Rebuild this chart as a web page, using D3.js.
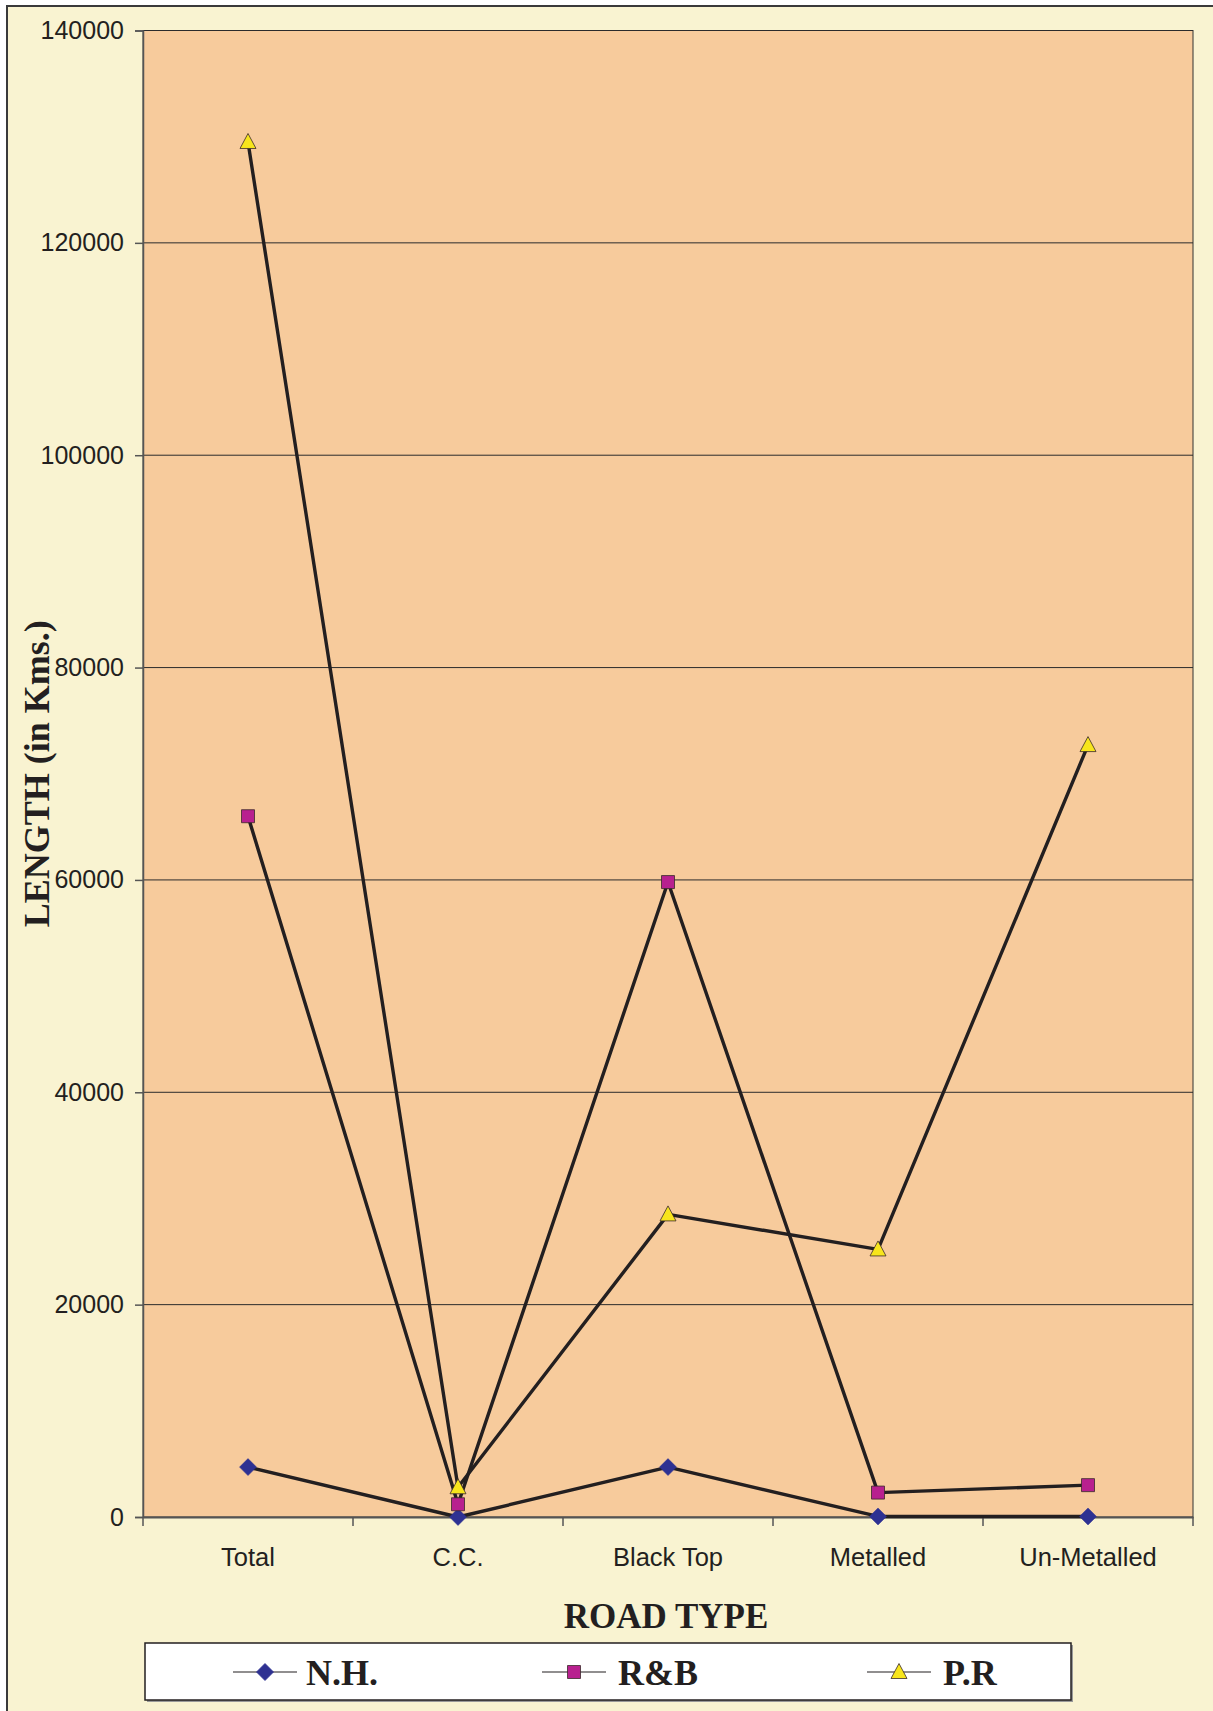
<!DOCTYPE html>
<html>
<head>
<meta charset="utf-8">
<script src="https://cdnjs.cloudflare.com/ajax/libs/d3/7.8.5/d3.min.js"></script>
<style>
  body { margin: 0; background: #ffffff; }
  svg { display: block; }
</style>
</head>
<body>
<svg id="svg1" width="1213" height="1711"></svg>
<script>
// data
var categories = ['Total', 'C.C.', 'Black Top', 'Metalled', 'Un-Metalled'];
var seriesNames = ['N.H.', 'R&B', 'P.R'];
var nhValues = [4700, 0, 4700, 50, 50];
var rbValues = [66000, 1200, 59800, 2300, 3000];
var prValues = [129500, 2800, 28500, 25200, 72700];
var yTicks = [0, 20000, 40000, 60000, 80000, 100000, 120000, 140000];

var series = [
    {name: seriesNames[0], values: nhValues, color: '#2e3192', shape: 'diamond'},
    {name: seriesNames[1], values: rbValues, color: '#b8208f', shape: 'square'},
    {name: seriesNames[2], values: prValues, color: '#f7e51c', shape: 'triangle'}
];

var svg = d3.select('#svg1');

var plotLeft = 143, plotRight = 1193, plotTop = 30.5, plotBottom = 1517;

// outer frame (runs off the right and bottom edges)
svg.append('rect')
    .attr('x', 7).attr('y', 6)
    .attr('width', 1230).attr('height', 1730)
    .attr('fill', '#f9f3d1')
    .attr('stroke', '#3a3a3a')
    .attr('stroke-width', 2);

var scaleX = d3.scaleBand().domain(categories).range([plotLeft, plotRight]);
var scaleY = d3.scaleLinear().domain([0, 140000]).range([plotBottom, plotTop]);

// plot area
svg.append('rect')
    .attr('x', plotLeft).attr('y', plotTop)
    .attr('width', plotRight - plotLeft).attr('height', plotBottom - plotTop)
    .attr('fill', '#f7cb9c')
    .attr('stroke', '#333')
    .attr('stroke-width', 1);

// gridlines
svg.append('g').selectAll('line')
    .data(yTicks.filter(function(d){ return d > 0; }))
    .enter().append('line')
    .attr('x1', plotLeft).attr('x2', plotRight)
    .attr('y1', function(d){ return scaleY(d); })
    .attr('y2', function(d){ return scaleY(d); })
    .attr('stroke', '#2b2b2b')
    .attr('stroke-width', 1);

// y axis
var yAxis = svg.append('g')
    .attr('transform', 'translate(' + plotLeft + ',0)')
    .call(d3.axisLeft(scaleY).tickValues(yTicks).tickFormat(d3.format('d')).tickSize(8).tickPadding(11));
yAxis.select('.domain').attr('stroke', '#555').attr('stroke-width', 1.5);
yAxis.selectAll('.tick line').attr('stroke', '#555').attr('stroke-width', 1.5);
yAxis.selectAll('text')
    .attr('font-family', 'Liberation Sans, Arial, sans-serif')
    .attr('font-size', 25)
    .attr('fill', '#231f20');

// x axis: ticks at band edges, labels at band centres
var xAxis = svg.append('g')
    .attr('transform', 'translate(0,' + plotBottom + ')')
    .call(d3.axisBottom(scaleX).tickSize(0).tickPadding(31));
xAxis.select('.domain').attr('stroke', '#555').attr('stroke-width', 2);
xAxis.selectAll('text')
    .attr('font-family', 'Liberation Sans, Arial, sans-serif')
    .attr('font-size', 25.5)
    .attr('fill', '#231f20');

var edges = categories.map(function(c){ return scaleX(c); }).concat([plotRight]);
svg.append('g').selectAll('line')
    .data(edges)
    .enter().append('line')
    .attr('x1', function(d){ return d; })
    .attr('x2', function(d){ return d; })
    .attr('y1', plotBottom)
    .attr('y2', plotBottom + 9)
    .attr('stroke', '#555')
    .attr('stroke-width', 1.5);

// axis titles
svg.append('text')
    .attr('transform', 'translate(49,' + ((plotTop + plotBottom) / 2) + ') rotate(-90)')
    .attr('text-anchor', 'middle')
    .attr('font-family', 'Liberation Serif, Times New Roman, serif')
    .attr('font-weight', 'bold')
    .attr('font-size', 36)
    .attr('fill', '#231f20')
    .text('LENGTH (in Kms.)');

svg.append('text')
    .attr('x', (plotLeft + plotRight) / 2 - 2)
    .attr('y', 1628)
    .attr('text-anchor', 'middle')
    .attr('font-family', 'Liberation Serif, Times New Roman, serif')
    .attr('font-weight', 'bold')
    .attr('font-size', 35)
    .attr('fill', '#231f20')
    .text('ROAD TYPE');

function markerPath(shape) {
    if (shape === 'diamond') return 'M0,-8.5L8.5,0L0,8.5L-8.5,0Z';
    if (shape === 'square') return 'M-6.5,-6.5L6.5,-6.5L6.5,6.5L-6.5,6.5Z';
    return 'M0,-8.5L8,6.5L-8,6.5Z';
}

var line = d3.line()
    .x(function(d, i){ return scaleX(categories[i]) + scaleX.bandwidth() / 2; })
    .y(function(d){ return scaleY(d); });

// lines
series.forEach(function(s){
    svg.append('path')
        .attr('d', line(s.values))
        .attr('fill', 'none')
        .attr('stroke', '#231f20')
        .attr('stroke-width', 3.4)
        .attr('stroke-linejoin', 'round');
});

// markers
series.forEach(function(s){
    svg.append('g').selectAll('path')
        .data(s.values)
        .enter().append('path')
        .attr('transform', function(d, i){
            return 'translate(' + (scaleX(categories[i]) + scaleX.bandwidth() / 2) + ',' + scaleY(d) + ')';
        })
        .attr('d', markerPath(s.shape))
        .attr('fill', s.color)
        .attr('stroke', s.shape === 'diamond' ? s.color : '#3a2a2a')
        .attr('stroke-width', s.shape === 'diamond' ? 0.5 : 0.8);
});

// legend
svg.append('rect')
    .attr('x', 147).attr('y', 1645)
    .attr('width', 926).attr('height', 57)
    .attr('fill', '#9a9a9a');
svg.append('rect')
    .attr('x', 145).attr('y', 1643)
    .attr('width', 926).attr('height', 57)
    .attr('fill', '#ffffff')
    .attr('stroke', '#231f20')
    .attr('stroke-width', 1.5);

var legendX = [233, 542, 867];
var legend = svg.append('g').selectAll('g')
    .data(series)
    .enter().append('g')
    .attr('transform', function(d, i){ return 'translate(' + legendX[i] + ',1672)'; });

legend.append('line')
    .attr('x1', 0).attr('x2', 64)
    .attr('y1', 0).attr('y2', 0)
    .attr('stroke', '#231f20')
    .attr('stroke-width', 1.2);
legend.append('path')
    .attr('transform', 'translate(32,0)')
    .attr('d', function(d){ return markerPath(d.shape); })
    .attr('fill', function(d){ return d.color; })
    .attr('stroke', function(d){ return d.shape === 'diamond' ? d.color : '#3a2a2a'; })
    .attr('stroke-width', 0.8);
legend.append('text')
    .attr('x', function(d, i){ return i === 0 ? 73 : 76; })
    .attr('y', 13)
    .attr('font-family', 'Liberation Serif, Times New Roman, serif')
    .attr('font-weight', 'bold')
    .attr('font-size', 36)
    .attr('fill', '#231f20')
    .text(function(d){ return d.name; });
</script>
</body>
</html>
